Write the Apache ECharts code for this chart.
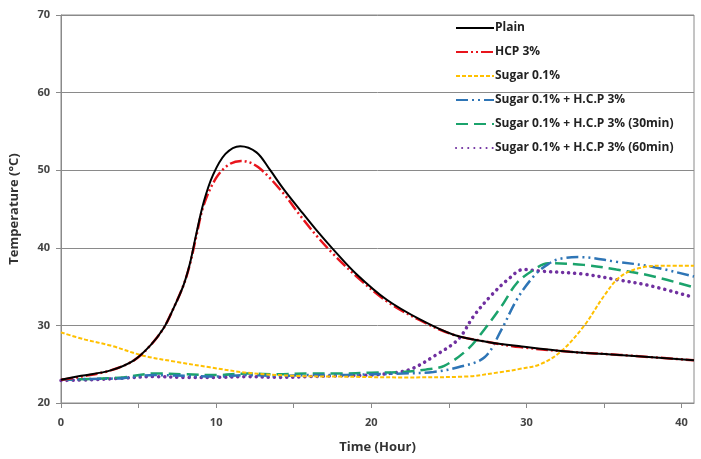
<!DOCTYPE html>
<html><head><meta charset="utf-8">
<script src="https://cdn.jsdelivr.net/npm/echarts@6/dist/echarts.min.js"></script>
<style>html,body{margin:0;padding:0;background:#fff}#c{width:701px;height:459px}</style>
</head><body><div id="c"></div>
<script>
const seriesNames = ["Plain","HCP 3%","Sugar 0.1%","Sugar 0.1% + H.C.P 3%","Sugar 0.1% + H.C.P 3% (30min)","Sugar 0.1% + H.C.P 3% (60min)"];
const xTicks = [0,10,20,30,40];
const yTicks = [20,30,40,50,60,70];
const plain = [[0,23.0],[1.3,23.5],[3.2,24.2],[4.7,25.5],[5.75,27.4],[6.6,29.6],[7.25,32.2],[7.9,35.2],[8.3,37.9],[8.7,41.6],[9.2,45.9],[9.8,49.4],[10.6,52.1],[11.55,53.1],[12.6,52.3],[13.45,50.1],[14.3,47.7],[15.4,44.9],[16.45,42.3],[17.5,39.9],[19.0,36.7],[21,33.3],[23.2,30.7],[25.3,28.8],[27.4,27.9],[29.6,27.3],[32.8,26.6],[36,26.2],[40.8,25.5]];
const hcp = [[0,23.0],[1.3,23.4],[3.2,24.2],[4.7,25.5],[5.75,27.4],[6.6,29.6],[7.25,32.2],[7.9,35.2],[8.3,37.8],[8.7,41.3],[9.2,45.5],[10.0,49.0],[10.8,50.7],[11.6,51.2],[12.7,50.4],[14.3,47.1],[15.4,44.2],[16.45,41.6],[17.5,39.3],[19.0,36.4],[21,33.1],[23.2,30.6],[25.3,28.8],[27.4,27.9],[29.6,27.2],[32.8,26.6],[36,26.2],[40.8,25.5]];
const sugar = [[0,29.1],[1.5,28.2],[3.2,27.4],[5.3,26.1],[7.45,25.3],[9.6,24.6],[12,23.9],[15,23.5],[18,23.4],[22,23.3],[26,23.4],[28.4,24.0],[29.6,24.4],[30.9,25.0],[32.2,26.6],[33.7,29.9],[35,33.8],[36,36.2],[37.3,37.4],[39,37.7],[40.8,37.7]];
const sugarHcp = [[0,23.0],[2,23.1],[4,23.2],[6,23.6],[8,23.5],[10,23.4],[12,23.6],[14,23.5],[16,23.6],[18,23.6],[20,23.7],[22,23.8],[24,24.0],[25.6,24.6],[27.3,25.9],[28.4,29.5],[29.4,33.4],[30.5,36.4],[31.4,37.9],[32.2,38.6],[33.5,38.8],[35.8,38.2],[38,37.6],[40.8,36.3]];
const sugarHcp30 = [[0,23.0],[2,23.1],[4,23.3],[6,23.8],[8,23.7],[10,23.6],[12,23.8],[14,23.7],[16,23.8],[18,23.8],[20,23.9],[22,24.0],[23.5,24.3],[24.7,24.8],[26.2,26.9],[27.3,29.5],[28.4,32.5],[29.4,35.5],[30.5,37.2],[31.4,38.0],[33.7,37.8],[35.8,37.2],[38,36.4],[40.8,34.9]];
const sugarHcp60 = [[0,22.9],[2,23.0],[4,23.2],[6,23.4],[8,23.3],[10,23.3],[12,23.4],[14,23.3],[16,23.4],[18,23.5],[20,23.6],[21.5,23.9],[22.6,24.4],[24.1,26.1],[25.6,28.2],[26.6,31.2],[27.7,33.8],[28.8,35.9],[29.8,37.2],[30.9,37.0],[33.7,36.6],[35.8,35.9],[38,35.1],[40.8,33.6]];

const datasets = [plain, hcp, sugar, sugarHcp, sugarHcp30, sugarHcp60];
const styles = [
  {color:'#000000', width:2, type:'solid'},
  {color:'#E8141C', width:2.5, type:[12,3,2,3,2,3]},
  {color:'#FFC000', width:2, type:[4,2]},
  {color:'#2E75B6', width:2.5, type:[12,4,2,4,2,4]},
  {color:'#1BA36C', width:2.5, type:[12,6]},
  {color:'#7030A0', width:3.5, type:[0.1,6], cap:'round'}
];
const font = 'Open Sans, Noto Sans, sans-serif';
const chart = echarts.init(document.getElementById('c'), null, {renderer:'canvas'});
chart.setOption({
  animation:false,
  backgroundColor:'#fff',
  grid:{left:56,right:7,top:15,bottom:55,show:true,borderColor:'#8a8a8a',borderWidth:1},
  legend:{
    orient:'vertical', left:450, top:17, itemWidth:38, itemHeight:14, itemGap:12,
    itemStyle:{opacity:0},
    textStyle:{fontFamily:font,fontSize:12,fontWeight:'bold',color:'#222',padding:[0,0,0,-4]},
    data:seriesNames
  },
  xAxis:{
    type:'value', min:0, max:40.8, interval:5,
    name:'Time (Hour)', nameLocation:'middle', nameGap:38,
    nameTextStyle:{fontFamily:font,fontSize:13,fontWeight:'bold',color:'#333'},
    axisLine:{lineStyle:{color:'#8a8a8a'}},
    axisTick:{show:true,length:5,lineStyle:{color:'#8a8a8a'}},
    axisLabel:{fontFamily:font,fontSize:11,fontWeight:'bold',color:'#444',margin:14,showMaxLabel:false,
      formatter:v=>xTicks.includes(v)?String(v):''},
    splitLine:{show:false}
  },
  yAxis:{
    type:'value', min:20, max:70, interval:10,
    name:'Temperature (°C)', nameLocation:'middle', nameGap:40,
    nameTextStyle:{fontFamily:font,fontSize:13,fontWeight:'bold',color:'#333'},
    axisLine:{show:true,lineStyle:{color:'#8a8a8a'}},
    axisTick:{show:true,length:5,lineStyle:{color:'#8a8a8a'}},
    axisLabel:{fontFamily:font,fontSize:11,fontWeight:'bold',color:'#444',margin:11,
      formatter:v=>yTicks.includes(v)?String(v):''},
    splitLine:{show:true,lineStyle:{color:'#8a8a8a',width:1}}
  },
  series: datasets.map((d,i)=>({
    name:seriesNames[i], type:'line', data:d, showSymbol:false, symbol:'none',
    smooth:0.35, z: 10-i,
    itemStyle:{color:styles[i].color},
    lineStyle:{color:styles[i].color,width:styles[i].width,type:styles[i].type,cap:styles[i].cap||'butt'}
  }))
});
</script></body></html>
